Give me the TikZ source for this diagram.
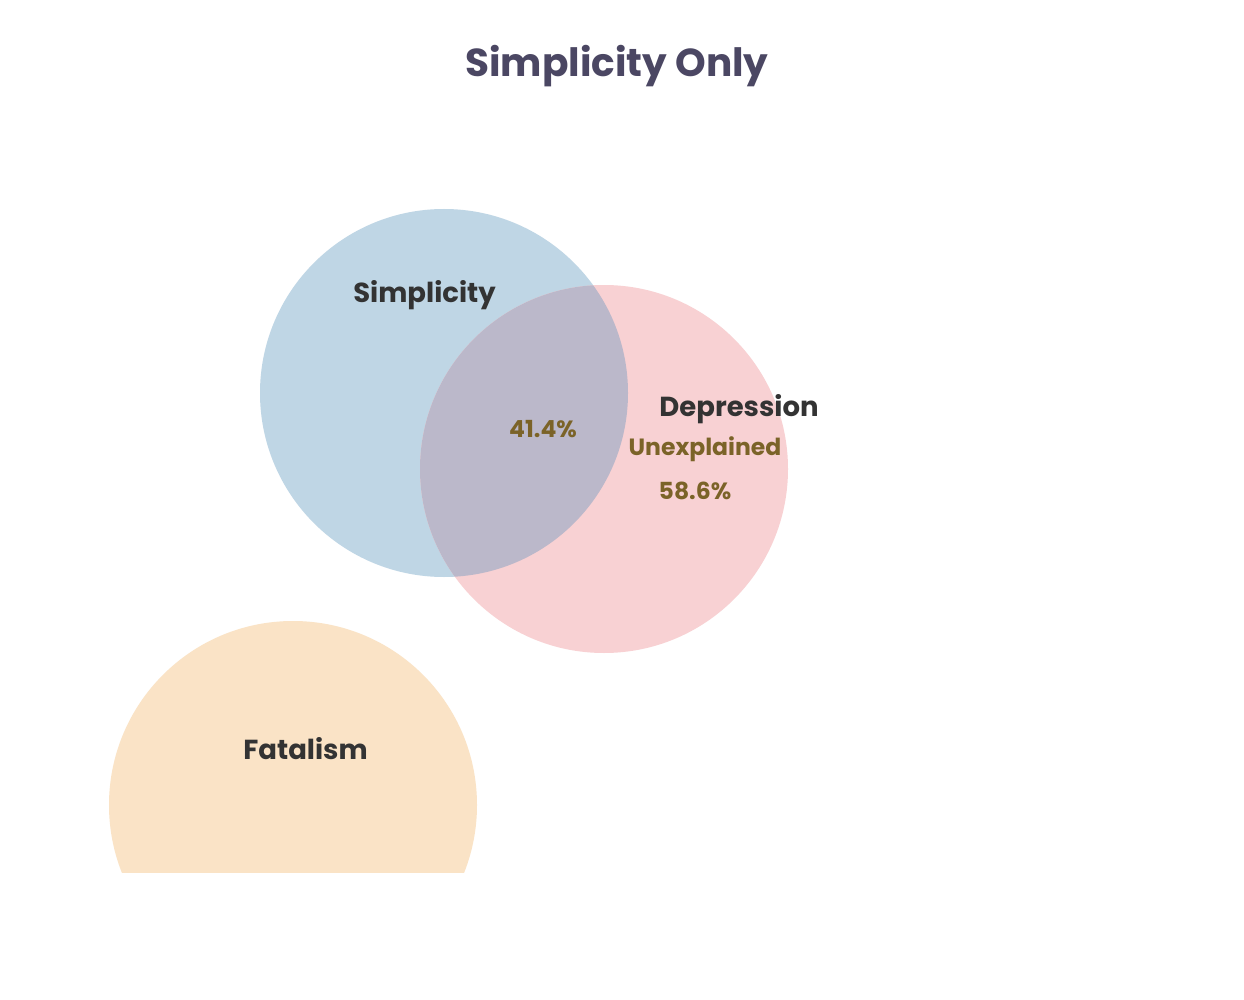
\documentclass[tikz,border=0pt]{standalone}
\usepackage{fontspec}
\setmainfont{Poppins}
\definecolor{titlec}{HTML}{4B4763}
\definecolor{labelc}{HTML}{333333}
\definecolor{pctc}{HTML}{7B6328}
\definecolor{bluec}{HTML}{BFD6E5}
\definecolor{pinkc}{HTML}{F8D1D3}
\definecolor{orangec}{HTML}{FAE3C6}
\definecolor{overc}{HTML}{BBB8CA}
\tikzset{
  setlabel/.style={text=labelc, font=\fontsize{27.5}{32}\selectfont\bfseries, inner sep=0pt},
  pctlabel/.style={text=pctc, font=\fontsize{23.5}{28}\selectfont\bfseries, inner sep=0pt},
}
\begin{document}
\begin{tikzpicture}[x=1pt,y=-1pt]
\useasboundingbox[fill=white] (0,0) rectangle (1244,1000);
% circles
\fill[bluec] (444,393) circle (184);
\fill[pinkc] (604,469) circle (184);
\begin{scope}
  \clip (444,393) circle (184);
  \fill[overc] (604,469) circle (184);
\end{scope}
\begin{scope}
  \clip (0,0) rectangle (1244,872);
  \fill[orangec] (293,805) circle (184);
\end{scope}
% title
\node[text=titlec, font=\fontsize{39}{46}\selectfont\bfseries, inner sep=0pt] (title) at (617,66) {Simplicity Only};
% labels
\node[setlabel] (simp) at (424.5,295) {Simplicity};
\node[setlabel] (dep) at (739,409) {Depression};
\node[setlabel] (fat) at (305.5,749) {Fatalism};
\node[pctlabel] (p1) at (543,429) {41.4\%};
\node[pctlabel] (unex) at (705,449) {Unexplained};
\node[pctlabel] (p2) at (695,491) {58.6\%};
\end{tikzpicture}
\end{document}
